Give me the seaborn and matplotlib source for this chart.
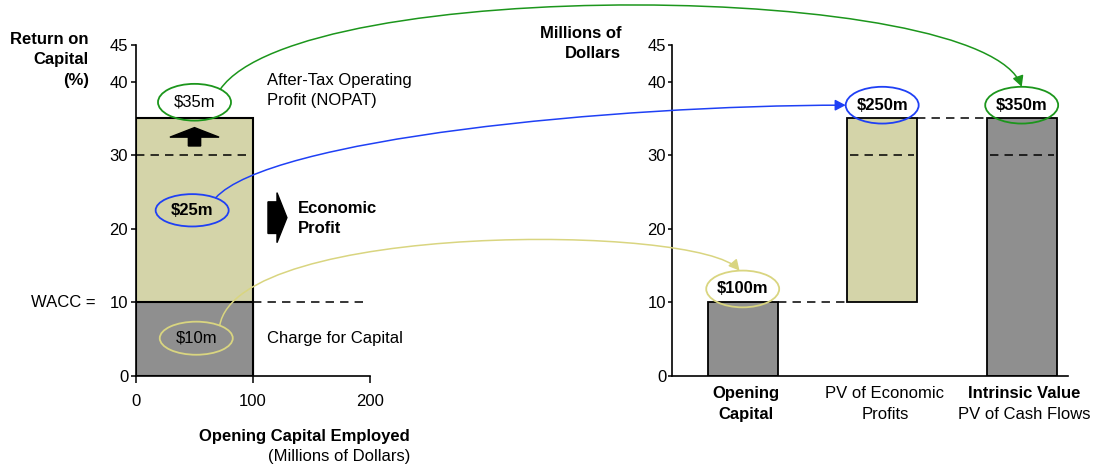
import matplotlib
matplotlib.use("Agg")
import matplotlib.pyplot as plt
import matplotlib.transforms as mtransforms
from matplotlib.patches import Ellipse, FancyArrow, FancyArrowPatch
from matplotlib.path import Path
import numpy as np
import seaborn as sns

# ---- data --------------------------------------------------------------
capital_employed = 100      # opening capital employed, $m
return_on_capital = 35      # %
wacc = 10                   # %
marker_level = 30           # dashed marker level drawn inside the bars

value_keys = ["opening", "pv_ep", "intrinsic"]
value_amounts = [100, 250, 350]          # $m
value_bases = [0, 100, 0]                # $m, where each bar starts
value_line1 = ["Opening", "PV of Economic", "Intrinsic Value"]
value_line2 = ["Capital", "Profits", "PV of Cash Flows"]
line1_bold = [True, False, True]
line2_bold = [True, False, False]

roc_ticks = [0, 10, 20, 30, 40, 45]
cap_ticks = [0, 100, 200]
dollars_per_unit = 10                    # right axis is drawn in $10m steps

# ---- style -------------------------------------------------------------
GRAY = "#8f8f8f"
KHAKI = "#d4d4a9"
GREEN = "#1c961c"
BLUE = "#1f40f5"
YELLOW = "#d9d580"
value_colors = [GRAY, KHAKI, GRAY]
DASH = (0, (5.5, 4))

sns.set_theme(style="ticks")
plt.rcParams["font.family"] = ["Liberation Sans", "DejaVu Sans"]
plt.rcParams.update({
    "font.size": 12,
    "axes.edgecolor": "black",
    "axes.linewidth": 1.2,
    "xtick.color": "black",
    "ytick.color": "black",
    "text.color": "black",
    "axes.labelcolor": "black",
})

W, H = 1100, 466
fig = plt.figure(figsize=(W / 100, H / 100), dpi=100)
y0, hh = (H - 375.7) / H, 330.8 / H
ax_l = fig.add_axes([136 / W, y0, 234 / W, hh])
ax_r = fig.add_axes([671.7 / W, y0, 396.3 / W, hh])

# ---- left panel: return on capital x capital employed -----------------
nopat = capital_employed * return_on_capital / 100
charge = capital_employed * wacc / 100
econ_profit = nopat - charge
mid = capital_employed / 2

bar_kw = dict(bins=[0, capital_employed], alpha=1, edgecolor="black",
              linewidth=1.5, ax=ax_l)
sns.histplot(x=[mid], weights=[return_on_capital], color=KHAKI, **bar_kw)
sns.histplot(x=[mid], weights=[wacc], color=GRAY, **bar_kw)

ax_l.set_xlim(cap_ticks[0], cap_ticks[-1])
ax_l.set_ylim(0, roc_ticks[-1])
ax_l.set_xticks(cap_ticks)
ax_l.set_yticks(roc_ticks)
ax_l.set_xlabel("")
ax_l.set_ylabel("")
ax_l.tick_params(axis="x", length=5, width=1.1, pad=8, labelsize=12)
ax_l.tick_params(axis="y", length=3.6, width=1.1, pad=2, labelsize=12)
ax_l.spines[["top", "right"]].set_visible(False)

ax_l.plot([0, capital_employed], [marker_level] * 2, color="black",
          lw=1.1, ls=DASH, zorder=3)
ax_l.plot([capital_employed, cap_ticks[-1] * 0.985], [wacc] * 2,
          color="black", lw=1.1, ls=DASH, zorder=3, clip_on=False)

# block arrows
ax_l.add_patch(FancyArrow(mid, 31.25, 0, 2.5, width=10.5, head_width=42,
                          head_length=1.3, length_includes_head=True,
                          color="black", zorder=4))
ax_l.add_patch(FancyArrow(112.8, 21.5, 16.2, 0, width=4.3, head_width=6.8,
                          head_length=8.5, length_includes_head=True,
                          color="black", zorder=4))

ax_l.text(111.7, 38.8, "After-Tax Operating\nProfit (NOPAT)", ha="left",
          va="center", linespacing=1.38)
ax_l.text(138.5, 21.4, "Economic\nProfit", ha="left", va="center",
          fontweight="bold", linespacing=1.42)
ax_l.text(111.7, charge / 2, "Charge for Capital", ha="left", va="center")
blend = mtransforms.blended_transform_factory(ax_l.transAxes, ax_l.transData)
ax_l.text(-0.172, wacc, "WACC =", transform=blend, ha="right", va="center")


def oval(ax, x, y, w, h, text, color, bold):
    ax.add_patch(Ellipse((x, y), w, h, fill=False, edgecolor=color,
                         lw=1.3, zorder=5, clip_on=False))
    ax.text(x, y, text, ha="center", va="center", zorder=6,
            fontweight="bold" if bold else "normal")
    return (x, y, w, h)


ov_nopat = oval(ax_l, mid, return_on_capital + 2.2, 62.4, 5.0,
                f"${nopat:.0f}m", GREEN, False)
ov_ep = oval(ax_l, mid - 2, (wacc + return_on_capital) / 2, 62.4, 4.4,
             f"${econ_profit:.0f}m", BLUE, True)
ov_charge = oval(ax_l, mid + 1.5, wacc / 2 + 0.1, 62.4, 4.5,
                 f"${charge:.0f}m", YELLOW, False)

# ---- right panel: value build-up ---------------------------------------
tops = []
for key, amt, base, col in zip(value_keys, value_amounts, value_bases,
                               value_colors):
    sns.barplot(x=[key], y=[amt / dollars_per_unit], order=value_keys,
                bottom=base / dollars_per_unit, color=col, saturation=1,
                width=0.5, edgecolor="black", linewidth=1.3,
                errorbar=None, ax=ax_r)
    tops.append((base + amt) / dollars_per_unit)

ax_r.set_xlim(-0.509, 2.332)
ax_r.set_ylim(0, roc_ticks[-1])
ax_r.set_yticks(roc_ticks)
ax_r.set_xticks(range(len(value_keys)))
ax_r.set_xticklabels([""] * len(value_keys))
ax_r.set_xlabel("")
ax_r.set_ylabel("")
ax_r.tick_params(axis="y", length=3, width=1.1, pad=1, labelsize=12)
ax_r.tick_params(axis="x", length=0)
ax_r.spines[["top", "right"]].set_visible(False)

half = 0.25
for i, (base, top) in enumerate(zip(value_bases, tops)):
    b = base / dollars_per_unit
    if b <= marker_level <= top:
        ax_r.plot([i - half + 0.02, i + half - 0.02], [marker_level] * 2,
                  color="black", lw=1.1, ls=DASH, zorder=3)
    if i + 1 < len(tops):
        ax_r.plot([i + half, i + 1 - half], [top] * 2, color="black",
                  lw=1.1, ls=DASH, zorder=3)

oval_colors = [YELLOW, BLUE, GREEN]
ovals_r = []
for i, (amt, base, col) in enumerate(zip(value_amounts, value_bases,
                                         oval_colors)):
    ovals_r.append(oval(ax_r, i, tops[i] + 1.8, 0.523, 5.0,
                        f"${amt}m", col, True))

xt = ax_r.get_xaxis_transform()
for i, (l1, l2) in enumerate(zip(value_line1, value_line2)):
    ax_r.text(i + 0.02, -0.055, l1, transform=xt, ha="center", va="center",
              fontweight="bold" if line1_bold[i] else "normal")
    ax_r.text(i + 0.02, -0.116, l2, transform=xt, ha="center", va="center",
              fontweight="bold" if line2_bold[i] else "normal")

# ---- axis titles -------------------------------------------------------
def ftext(px, py, s, **kw):
    fig.text(px / W, 1 - py / H, s, va="center", **kw)


for py, s in zip([39, 59.5, 80], ["Return on", "Capital", "(%)"]):
    ftext(89, py, s, ha="right", fontweight="bold")
for py, s in zip([34, 53], ["Millions of", "Dollars"]):
    ftext(621, py, s, ha="right", fontweight="bold")
ftext(410, 436.7, "Opening Capital Employed", ha="right", fontweight="bold")
ftext(410, 456.7, "(Millions of Dollars)", ha="right")

# ---- curved connectors between the panels ------------------------------
to_fig = fig.transFigure.inverted()


def on_oval(ax, ov, deg):
    cx, cy, w, h = ov
    t = np.deg2rad(deg)
    return ax.transData.transform((cx + w / 2 * np.cos(t),
                                   cy + h / 2 * np.sin(t)))


def connector(p0, d1, d2, p3, color):
    p0, p3 = np.asarray(p0), np.asarray(p3)
    pts = np.array([p0, p0 + np.array(d1), p3 + np.array(d2), p3])
    path = Path(to_fig.transform(pts),
                [Path.MOVETO, Path.CURVE4, Path.CURVE4, Path.CURVE4])
    fig.add_artist(FancyArrowPatch(
        path=path, arrowstyle="-|>,head_length=0.63,head_width=0.33",
        mutation_scale=10, color=color, lw=1.1,
        transform=fig.transFigure, zorder=10))


connector(on_oval(ax_l, ov_nopat, 45), (80, 115), (-38, 106),
          on_oval(ax_r, ovals_r[2], 90), GREEN)
connector(on_oval(ax_l, ov_ep, 50), (53, 59), (-233, 0),
          on_oval(ax_r, ovals_r[1], 180), BLUE)
connector(on_oval(ax_l, ov_charge, 50), (18, 104), (-40, 47),
          on_oval(ax_r, ovals_r[0], 95), YELLOW)

fig.savefig("out.png", dpi=100)
